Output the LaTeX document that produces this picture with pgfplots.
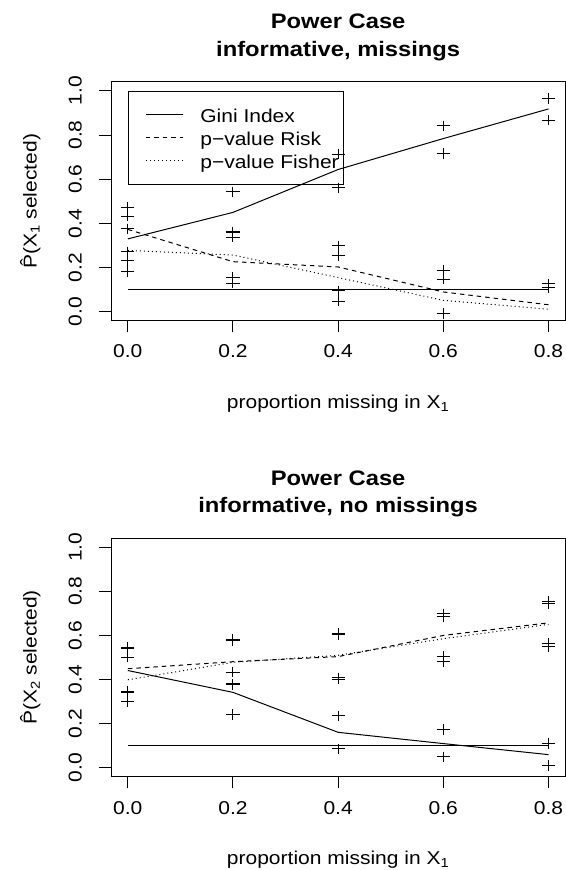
\documentclass[border=0pt]{standalone}
\usepackage{fontspec}
\setmainfont{Liberation Sans}[FakeStretch=1.13]
\usepackage{pgfplots}
\pgfplotsset{compat=1.18}
\newcommand\fs{\fontsize{18.6bp}{22bp}\selectfont}
\newcommand\tfs{\fontsize{21bp}{27.7bp}\selectfont\bfseries}
\pgfplotsset{rplot/.style={
  scale only axis, width=454.3bp,
  xmin=-0.032, xmax=0.832, ymin=-0.04, ymax=1.04,
  xtick={0,0.2,0.4,0.6,0.8}, ytick={0,0.2,0.4,0.6,0.8,1},
  minor tick num=0,
  /pgf/number format/.cd, fixed, fixed zerofill, precision=1, assume math mode=true, /pgfplots/.cd,
  tick align=outside, xtick pos=bottom, ytick pos=left, major tick length=11.7bp,
  axis line style={line width=1bp, black}, tick style={line width=1bp, black},
  ticklabel style={font=\fs},
  xticklabel style={anchor=base}, xticklabel shift=25.6bp,
  yticklabel style={rotate=90, anchor=base}, yticklabel shift=17.6bp,
  xlabel style={at={(axis description cs:0.5,-0.3687)}, anchor=base, font=\fs},
  ylabel style={at={(axis description cs:-0.16355,0.5)}, rotate=0, anchor=base, font=\fs},
  title style={at={(axis description cs:0.5,1)}, anchor=base, yshift=19.6bp, align=center, font=\tfs},
  legend style={at={(axis cs:0,1)}, anchor=north west, draw=black, fill=none, line width=1bp,
    inner xsep=17.1bp, inner ysep=15.1bp, font=\fs, row sep=5.6bp, column sep=17.2bp,
    nodes={inner sep=0pt, text height=15.9bp, text depth=1.5bp}, cells={anchor=base west}},
  legend image code/.code={\draw[#1] (0bp,7.7bp) -- (36.7bp,7.7bp);},
  every axis plot/.append style={line width=1bp, black},
  pts/.style={only marks, mark=+, mark size=5.2bp, mark options={xscale=1.28, line width=1bp, solid}},
}}
\begin{document}
\begin{tikzpicture}[x=1bp,y=1bp]
\useasboundingbox (0,0) rectangle (566,870);
% ---------------- top panel
\begin{axis}[rplot, at={(111bp,549.3bp)}, anchor=south west, height=238.7bp,
  title={Power Case\\informative, missings},
  xlabel={proportion missing in X\textsubscript{1}},
  ylabel={\^{P}(X\textsubscript{1} selected)}]
\addplot[solid] coordinates {(0,0.330) (0.2,0.450) (0.4,0.644) (0.6,0.784) (0.8,0.918)};
\addlegendentry{\makebox[126bp][l]{Gini Index}}
\addplot[dash pattern=on 4.5bp off 4bp] coordinates {(0,0.373) (0.2,0.227) (0.4,0.203) (0.6,0.090) (0.8,0.032)};
\addlegendentry{\makebox[126bp][l]{p−value Risk}}
\addplot[dash pattern=on 1bp off 3bp] coordinates {(0,0.278) (0.2,0.257) (0.4,0.155) (0.6,0.052) (0.8,0.012)};
\addlegendentry{\makebox[126bp][l]{p−value Fisher}}
\addplot[solid, forget plot] coordinates {(0,0.1) (0.8,0.1)};
\addplot[pts, forget plot] coordinates {
 (0,0.472) (0,0.433) (0,0.376) (0,0.272) (0,0.231) (0,0.183)
 (0.2,0.543) (0.2,0.362) (0.2,0.357) (0.2,0.338) (0.2,0.155) (0.2,0.130)
 (0.4,0.714) (0.4,0.561) (0.4,0.299) (0.4,0.255) (0.4,0.095) (0.4,0.048)
 (0.6,0.842) (0.6,0.717) (0.6,0.189) (0.6,0.148) (0.6,-0.007)
 (0.8,0.965) (0.8,0.867) (0.8,0.126) (0.8,0.111)};
\end{axis}
% ---------------- bottom panel
\begin{axis}[rplot, at={(111bp,93.3bp)}, anchor=south west, height=238.4bp,
  title={Power Case\\informative, no missings},
  xlabel={proportion missing in X\textsubscript{1}},
  ylabel={\^{P}(X\textsubscript{2} selected)}]
\addplot[solid] coordinates {(0,0.441) (0.2,0.342) (0.4,0.161) (0.6,0.110) (0.8,0.060)};
\addplot[dash pattern=on 4.5bp off 4bp] coordinates {(0,0.449) (0.2,0.481) (0.4,0.504) (0.6,0.600) (0.8,0.657)};
\addplot[dash pattern=on 1bp off 3bp] coordinates {(0,0.399) (0.2,0.478) (0.4,0.510) (0.6,0.585) (0.8,0.650)};
\addplot[solid] coordinates {(0,0.1) (0.8,0.1)};
\addplot[pts] coordinates {
 (0,0.547) (0,0.539) (0,0.501) (0,0.348) (0,0.341) (0,0.300)
 (0.2,0.582) (0.2,0.576) (0.2,0.434) (0.2,0.381) (0.2,0.378) (0.2,0.241)
 (0.4,0.609) (0.4,0.602) (0.4,0.408) (0.4,0.402) (0.4,0.235) (0.4,0.086)
 (0.6,0.698) (0.6,0.684) (0.6,0.504) (0.6,0.481) (0.6,0.173) (0.6,0.050)
 (0.8,0.755) (0.8,0.743) (0.8,0.565) (0.8,0.550) (0.8,0.110) (0.8,0.011)};
\end{axis}
\end{tikzpicture}
\end{document}
